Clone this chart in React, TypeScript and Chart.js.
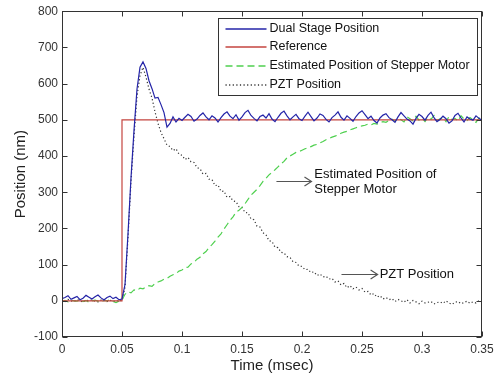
import React, { useEffect, useRef } from "react";
import { Chart, registerables } from "chart.js";

Chart.register(...registerables);

const FONT = '"Liberation Sans", Arial, Helvetica, sans-serif';

// Time samples (msec)
const TIME = [
  0, 0.0025, 0.005, 0.0075, 0.01, 0.0125, 0.015, 0.0175, 0.02, 0.0225,
  0.025, 0.0275, 0.03, 0.0325, 0.035, 0.0375, 0.04, 0.0425, 0.045, 0.0475,
  0.05, 0.0525, 0.055, 0.0575, 0.06, 0.0625, 0.065, 0.0675, 0.07, 0.0725,
  0.075, 0.0775, 0.08, 0.0825, 0.085, 0.0875, 0.09, 0.0925, 0.095, 0.0975,
  0.1, 0.1025, 0.105, 0.1075, 0.11, 0.1125, 0.115, 0.1175, 0.12, 0.1225,
  0.125, 0.1275, 0.13, 0.1325, 0.135, 0.1375, 0.14, 0.1425, 0.145, 0.1475,
  0.15, 0.1525, 0.155, 0.1575, 0.16, 0.1625, 0.165, 0.1675, 0.17, 0.1725,
  0.175, 0.1775, 0.18, 0.1825, 0.185, 0.1875, 0.19, 0.1925, 0.195, 0.1975,
  0.2, 0.2025, 0.205, 0.2075, 0.21, 0.2125, 0.215, 0.2175, 0.22, 0.2225,
  0.225, 0.2275, 0.23, 0.2325, 0.235, 0.2375, 0.24, 0.2425, 0.245, 0.2475,
  0.25, 0.2525, 0.255, 0.2575, 0.26, 0.2625, 0.265, 0.2675, 0.27, 0.2725,
  0.275, 0.2775, 0.28, 0.2825, 0.285, 0.2875, 0.29, 0.2925, 0.295, 0.2975,
  0.3, 0.3025, 0.305, 0.3075, 0.31, 0.3125, 0.315, 0.3175, 0.32, 0.3225,
  0.325, 0.3275, 0.33, 0.3325, 0.335, 0.3375, 0.34, 0.3425, 0.345, 0.3475,
  0.35,
];

const DUAL_STAGE = [
  6, 9, 14, 4, 8, 12, 3, 7, 15, 10,
  5, 11, 16, 8, 2, 9, 13, 6, 10, 3,
  5, 45, 185, 340, 470, 585, 645, 660, 642, 608,
  586, 560, 562, 542, 520, 480, 490, 508, 494, 504,
  498, 507, 515, 509, 496, 502, 512, 519, 508, 500,
  511, 505, 494, 506, 516, 522, 510, 503, 514, 499,
  508, 520, 526, 512, 504, 497, 509, 513, 505, 517,
  502, 495, 507, 518, 524, 511, 500, 508, 515, 503,
  498, 510, 521, 509, 497, 505, 516, 512, 501, 494,
  506, 513, 522, 507, 499, 511, 504, 496, 509, 519,
  525, 514, 503, 510, 498, 491, 505, 513, 517, 506,
  500, 493, 508, 520, 511, 502, 497, 488, 504, 515,
  509, 499, 512, 521, 506, 495, 501, 510, 503, 491,
  497, 512, 518, 505, 494, 508, 502, 499, 511, 504,
  498,
];

const REF_TIME = [0, 0.05, 0.05, 0.35];
const REFERENCE = [0, 0, 500, 500];

const STEPPER = [
  -2, 1, -3, 2, 0, -1, 3, -2, 1, -4,
  0, 2, -1, -3, 1, 0, 3, -2, -5, -1,
  2, 18, 25, 22, 30, 28, 35, 33, 38, 42,
  40, 48, 52, 55, 60, 62, 68, 72, 75, 82,
  85, 92, 93, 102, 106, 115, 120, 130, 136, 147,
  155, 165, 176, 185, 198, 210, 222, 232, 245, 250,
  258, 268, 280, 292, 300, 308, 318, 330, 338, 348,
  355, 362, 370, 378, 385, 395, 400, 405, 410, 412,
  416, 420, 422, 426, 430, 432, 436, 440, 445, 448,
  452, 455, 458, 463, 466, 468, 472, 475, 478, 481,
  483, 485, 488, 486, 490, 488, 492, 495, 493, 498,
  502, 496, 505, 500, 494, 508, 503, 497, 510, 499,
  504, 495, 507, 501, 512, 498, 503, 506, 495, 509,
  500, 504, 497, 511, 502, 498, 506, 500, 493, 505,
  501,
];

const PZT = [
  2, -3, 4, 0, -2, 3, 1, -4, 2, 0,
  3, -1, -3, 2, 4, -2, 1, 0, -3, 2,
  0, 38, 175, 330, 455, 565, 622, 645, 618, 585,
  560, 522, 490, 465, 448, 430, 426, 415, 420, 405,
  402, 390, 396, 384, 382, 368, 365, 350, 352, 336,
  335, 318, 320, 302, 303, 286, 288, 276, 274, 260,
  258, 244, 243, 226, 224, 206, 204, 188, 182, 166,
  164, 148, 147, 134, 132, 122, 120, 108, 106, 96,
  95, 86, 87, 78, 80, 70, 74, 66, 68, 60,
  62, 52, 55, 44, 48, 36, 42, 33, 38, 30,
  34, 24, 26, 16, 20, 10, 14, 5, 9, 3,
  6, -2, 4, 0, -4, 3, -6, 1, -3, -8,
  -1, -6, -4, -2, -9, -5, -3, -7, 0, -6,
  -10, -4, -2, -8, -5, -1, -7, -3, -6, 0,
  -4,
];

const SERIES_LABELS = [
  "Dual Stage Position",
  "Reference",
  "Estimated Position of Stepper Motor",
  "PZT Position",
];

const X_TICK_STEP = 0.05;
const Y_TICK_STEP = 100;

// Annotations: text lines, arrow start/end (time), arrow level (nm), text start (time)
const NOTE_LINES = [["Estimated Position of", "Stepper Motor"], ["PZT Position"]];
const NOTE_ARROW_FROM = [0.1787, 0.2329];
const NOTE_ARROW_TO = [0.2079, 0.263];
const NOTE_LEVEL = [332, 73];
const NOTE_TEXT_AT = [0.2103, 0.2647];

const toPoints = (xs: number[], ys: number[]) => xs.map((x, i) => ({ x, y: ys[i] }));

const framePlugin = {
  id: "frameAndNotes",
  afterDatasetsDraw(chart: any) {
    const { ctx, scales } = chart;
    const xs = scales.x;
    const ys = scales.y;
    ctx.save();
    ctx.font = `13px ${FONT}`;
    ctx.textBaseline = "middle";
    ctx.textAlign = "left";
    for (let i = 0; i < NOTE_LINES.length; i++) {
      const x1 = xs.getPixelForValue(NOTE_ARROW_FROM[i]);
      const x2 = xs.getPixelForValue(NOTE_ARROW_TO[i]);
      const yy = Math.round(ys.getPixelForValue(NOTE_LEVEL[i])) + 0.5;
      ctx.strokeStyle = "#555";
      ctx.lineWidth = 1.2;
      ctx.setLineDash([]);
      ctx.beginPath();
      ctx.moveTo(x1, yy);
      ctx.lineTo(x2, yy);
      ctx.moveTo(x2 - 7, yy - 4.5);
      ctx.lineTo(x2, yy);
      ctx.lineTo(x2 - 7, yy + 4.5);
      ctx.stroke();
      const tx = xs.getPixelForValue(NOTE_TEXT_AT[i]);
      const lines = NOTE_LINES[i];
      const lh = 15;
      const start = yy - ((lines.length - 1) * lh) / 2;
      ctx.fillStyle = "#111";
      lines.forEach((ln, k) => ctx.fillText(ln, tx, start + k * lh));
    }
    ctx.restore();
  },
  afterDraw(chart: any) {
    const { ctx, chartArea: a, scales } = chart;
    const xs = scales.x;
    const ys = scales.y;
    ctx.save();
    ctx.strokeStyle = "#333";
    ctx.lineWidth = 1;
    ctx.setLineDash([]);
    const L = Math.round(a.left) + 0.5;
    const R = Math.round(a.right) - 0.5;
    const T = Math.round(a.top) + 0.5;
    const B = Math.round(a.bottom) - 0.5;
    ctx.strokeRect(L, T, R - L, B - T);
    const TL = 5;
    ctx.beginPath();
    xs.ticks.forEach((t: any) => {
      const px = Math.round(xs.getPixelForValue(t.value)) + 0.5;
      ctx.moveTo(px, B);
      ctx.lineTo(px, B - TL);
      ctx.moveTo(px, T);
      ctx.lineTo(px, T + TL);
    });
    ys.ticks.forEach((t: any) => {
      const py = Math.round(ys.getPixelForValue(t.value)) + 0.5;
      ctx.moveTo(L, py);
      ctx.lineTo(L + TL, py);
      ctx.moveTo(R, py);
      ctx.lineTo(R - TL, py);
    });
    ctx.stroke();

    // legend
    const ds = chart.data.datasets;
    ctx.font = `12.5px ${FONT}`;
    let maxW = 0;
    ds.forEach((d: any) => (maxW = Math.max(maxW, ctx.measureText(d.label).width)));
    const sampleW = 41;
    const padL = 7;
    const gap = 3;
    const padR = 8;
    const boxW = padL + sampleW + gap + maxW + padR;
    const rowH = 18.7;
    const boxH = 10 + rowH * (ds.length - 1) + 11;
    const bx = Math.round(R - 4 - boxW) + 0.5;
    const by = Math.round(T + 6) + 0.5;
    ctx.fillStyle = "#fff";
    ctx.fillRect(bx, by, Math.round(boxW), Math.round(boxH));
    ctx.strokeStyle = "#333";
    ctx.lineWidth = 1;
    ctx.strokeRect(bx, by, Math.round(boxW), Math.round(boxH));
    ds.forEach((d: any, i: number) => {
      const ry = Math.round(by + 10 + i * rowH);
      ctx.strokeStyle = d.borderColor;
      ctx.lineWidth = 1.4;
      ctx.setLineDash(d.borderDash || []);
      ctx.beginPath();
      ctx.moveTo(bx + padL, ry);
      ctx.lineTo(bx + padL + sampleW, ry);
      ctx.stroke();
      ctx.setLineDash([]);
      ctx.fillStyle = "#111";
      ctx.textBaseline = "middle";
      ctx.textAlign = "left";
      ctx.fillText(d.label, bx + padL + sampleW + gap, ry);
    });
    ctx.restore();
  },
};

export default function App() {
  const ref = useRef<HTMLCanvasElement>(null);
  useEffect(() => {
    if (!ref.current) return;
    Chart.defaults.font.family = FONT;
    const chart = new Chart(ref.current, {
      type: "line",
      data: {
        datasets: [
          {
            label: SERIES_LABELS[0],
            data: toPoints(TIME, DUAL_STAGE),
            borderColor: "#2424a8",
            borderWidth: 1.2,
            pointRadius: 0,
            tension: 0,
          },
          {
            label: SERIES_LABELS[1],
            data: toPoints(REF_TIME, REFERENCE),
            borderColor: "#c4443f",
            borderWidth: 1.2,
            pointRadius: 0,
            tension: 0,
          },
          {
            label: SERIES_LABELS[2],
            data: toPoints(TIME, STEPPER),
            borderColor: "#4fd04f",
            borderWidth: 1.2,
            borderDash: [7, 4],
            pointRadius: 0,
            tension: 0,
          },
          {
            label: SERIES_LABELS[3],
            data: toPoints(TIME, PZT),
            borderColor: "#333",
            borderWidth: 1.2,
            borderDash: [1.2, 2.4],
            pointRadius: 0,
            tension: 0,
          },
        ],
      } as any,
      options: {
        responsive: false,
        animation: false,
        devicePixelRatio: 1,
        layout: { padding: { top: 10, right: 17, bottom: 0, left: 0 } },
        plugins: {
          legend: { display: false },
          tooltip: { enabled: false },
        },
        scales: {
          x: {
            type: "linear",
            min: 0,
            max: 0.35,
            grid: { display: false, drawTicks: false },
            border: { display: false },
            ticks: {
              stepSize: X_TICK_STEP,
              padding: 5,
              color: "#333",
              font: { size: 12, family: FONT },
              maxRotation: 0,
              callback: (v: any) => String(Number(Number(v).toFixed(3))),
            },
            title: {
              display: true,
              text: "Time (msec)",
              color: "#222",
              font: { size: 15, family: FONT },
              padding: { top: 0, bottom: 5 },
            },
            afterFit: (s: any) => {
              s.height = 43;
            },
          },
          y: {
            type: "linear",
            min: -100,
            max: 800,
            grid: { display: false, drawTicks: false },
            border: { display: false },
            ticks: {
              stepSize: Y_TICK_STEP,
              padding: 4,
              color: "#333",
              font: { size: 12, family: FONT },
            },
            title: {
              display: true,
              text: "Position (nm)",
              color: "#222",
              font: { size: 15, family: FONT },
              padding: { top: 12, bottom: 0 },
            },
            afterFit: (s: any) => {
              s.width = 62;
            },
          },
        },
      } as any,
      plugins: [framePlugin],
    });
    return () => chart.destroy();
  }, []);
  return (
    <div style={{ position: "fixed", left: 0, top: 0, width: 499, height: 380, background: "#fff" }}>
      <canvas ref={ref} width={499} height={380} style={{ display: "block", width: 499, height: 380 }} />
    </div>
  );
}
